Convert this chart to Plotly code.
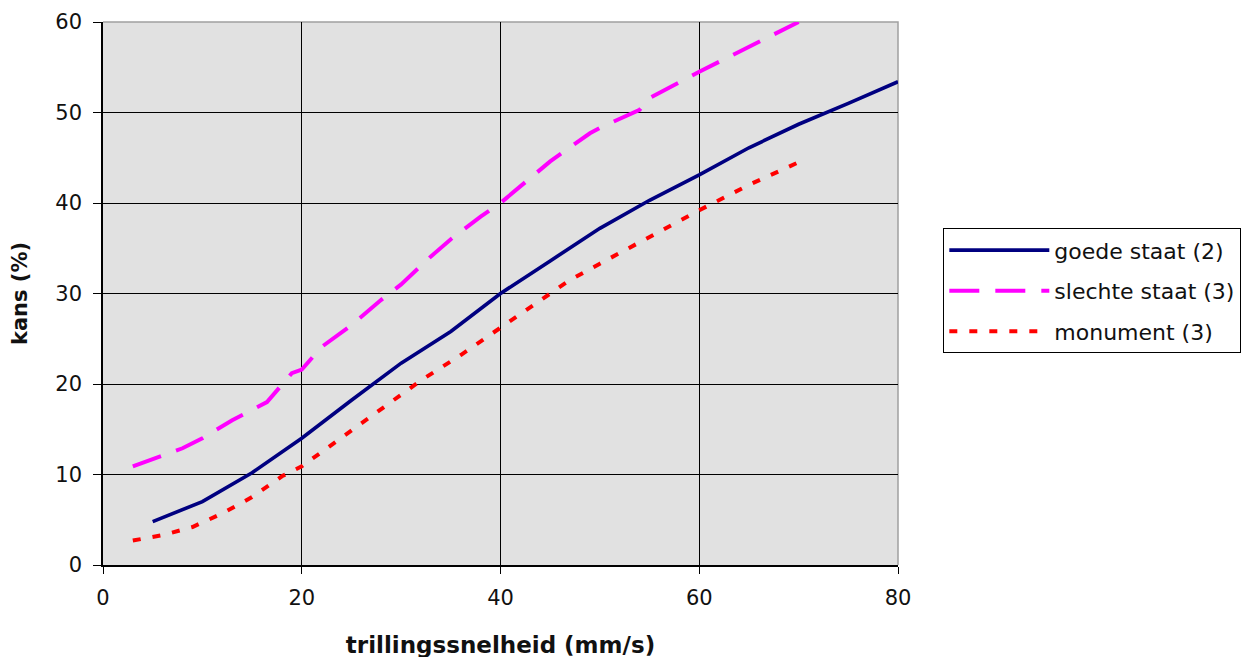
import plotly.graph_objects as go

# Data
goede_x = [5, 10, 15, 20, 25, 30, 35, 40, 45, 50, 55, 60, 65, 70, 75, 80]
goede_y = [4.8, 7.0, 10.2, 14.0, 18.2, 22.3, 25.8, 30.0, 33.6, 37.2, 40.3, 43.1, 46.1, 48.7, 51.0, 53.4]

slechte_x = [3, 5, 8, 10, 13, 16.5, 19, 20, 22, 25, 28, 30, 33, 35, 38, 40, 43.5, 45, 49, 50, 54, 55, 60, 65, 70]
slechte_y = [10.9, 11.7, 12.9, 14.0, 16.0, 18.0, 21.2, 21.6, 24.1, 26.5, 29.3, 31.0, 34.1, 36.0, 38.5, 40.0, 43.3, 44.6, 47.7, 48.3, 50.3, 51.6, 54.5, 57.3, 60.0]

monument_x = [3, 6, 9, 12, 15, 18, 20, 22, 26, 30, 32, 36, 41, 44, 47, 50, 55, 60, 65, 70]
monument_y = [2.7, 3.3, 4.2, 5.7, 7.5, 9.8, 10.9, 12.5, 15.7, 18.8, 20.4, 23.2, 27.0, 29.3, 31.5, 33.3, 36.3, 39.2, 42.0, 44.5]

series_names = ["goede staat (2)", "slechte staat (3)", "monument (3)"]
x_ticks = [0, 20, 40, 60, 80]
y_ticks = [0, 10, 20, 30, 40, 50, 60]
x_grid = [20, 40, 60]
y_grid = [10, 20, 30, 40, 50]

FONT = "DejaVu Sans, Liberation Sans, Arial, sans-serif"
TXT = "#111111"

fig = go.Figure()
fig.add_trace(go.Scatter(x=goede_x, y=goede_y, mode="lines", name=series_names[0],
                         legendgroup="a",
                         line=dict(color="#000080", width=3.6)))
fig.add_trace(go.Scatter(x=slechte_x, y=slechte_y, mode="lines", name=series_names[1],
                         legendgroup="b",
                         line=dict(color="#ff00ff", width=4, dash="30px,16px")))
fig.add_trace(go.Scatter(x=monument_x, y=monument_y, mode="lines", name=series_names[2],
                         legendgroup="c",
                         line=dict(color="#ff0000", width=4, dash="8px,12px")))

fig.update_layout(
    width=1254, height=657,
    margin=dict(l=95, r=364, t=14, b=100),
    paper_bgcolor="white",
    plot_bgcolor="#e1e1e1",
    font=dict(family=FONT, size=21, color=TXT),
    showlegend=True,
    legend=dict(
        x=1.057, y=0.620, xanchor="left", yanchor="top",
        bgcolor="white", bordercolor="#000000", borderwidth=1,
        font=dict(family=FONT, size=22, color=TXT),
        tracegroupgap=9, itemwidth=100,
    ),
    shapes=[dict(type="path", xref="paper", yref="paper", path="M0,1 L1,1 L1,0",
                 line=dict(color="#a0a0a0", width=1.5), layer="between")],
)

fig.update_xaxes(
    range=[0, 80], tickvals=x_ticks, ticktext=[str(v) for v in x_ticks],
    showgrid=False, automargin=False,
    minor=dict(tickmode="array", tickvals=x_grid, showgrid=True, gridcolor="#000000", gridwidth=1.2),
    showline=True, linecolor="#000000", linewidth=1.5,
    ticks="outside", ticklen=7, tickcolor="#000000", ticklabelstandoff=6,
    zeroline=False,
    tickfont=dict(family=FONT, size=21, color=TXT),
    title=dict(text="<b>trillingssnelheid (mm/s)</b>", font=dict(family=FONT, size=23, color=TXT),
               standoff=28),
)
fig.update_yaxes(
    range=[0, 60], tickvals=y_ticks, ticktext=[str(v) for v in y_ticks],
    showgrid=False, automargin=False,
    minor=dict(tickmode="array", tickvals=y_grid, showgrid=True, gridcolor="#000000", gridwidth=1.2),
    showline=True, linecolor="#000000", linewidth=1.5,
    ticks="outside", ticklen=8, tickcolor="#000000", ticklabelstandoff=7,
    zeroline=False,
    tickfont=dict(family=FONT, size=21, color=TXT),
    title=dict(text="<b>kans (%)</b>", font=dict(family=FONT, size=21, color=TXT),
               standoff=22),
)

fig.write_html("out.html")
